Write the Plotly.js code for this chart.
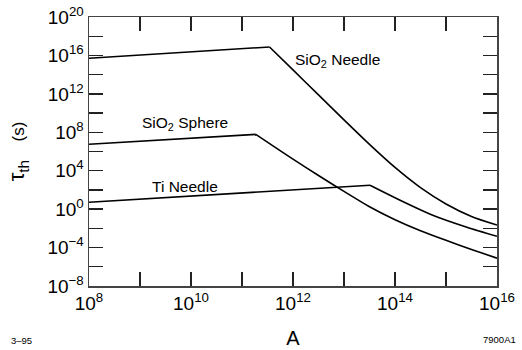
<!DOCTYPE html>
<html>
<head>
<meta charset="utf-8">
<script src="https://cdn.plot.ly/plotly-3.0.1.min.js"></script>
<style>
html,body{margin:0;padding:0;background:#fff;}
#chart{width:522px;height:350px;}
</style>
</head>
<body>
<div id="chart"></div>
<script>
// Values as log10 exponents (A on x, tau_th on y)
const needleLogA   = [8.0, 11.54, 12.0, 12.5, 13.0, 13.5, 14.0, 14.5, 15.0, 15.5, 16.0];
const needleLogTau = [15.70, 16.88, 14.49, 11.89, 9.29, 6.74, 4.34, 2.24, 0.54, -0.76, -1.66];

const sphereLogA   = [8.0, 11.27, 12.0, 12.5, 13.0, 13.5, 14.0, 14.5, 15.0, 15.5, 16.0];
const sphereLogTau = [6.75, 7.78, 5.2, 3.5, 1.85, 0.25, -1.1, -2.25, -3.25, -4.2, -5.1];

const tiLogA   = [8.0, 13.51, 14.10, 14.74, 15.41, 16.0];
const tiLogTau = [0.72, 2.49, 0.93, -0.63, -1.88, -2.82];

const xLabelExp = [8, 10, 12, 14, 16];
const xMinorExp = [9, 11, 13, 15];
const yLabelExp = [-8, -4, 0, 4, 8, 12, 16, 20];
const yMinorExp = [-6, -2, 2, 6, 10, 14, 18];

const seriesLabels = ["SiO<sub>2</sub> Needle", "SiO<sub>2</sub> Sphere", "Ti Needle"];

const p10 = v => Math.pow(10, v);
const lineStyle = {color: '#000', width: 1.6};

function seriesTraces(lx, ly) {
  // rising straight segment then falling curved segment (peak at index 1)
  return [
    {x: lx.slice(0, 2).map(p10), y: ly.slice(0, 2).map(p10), mode: 'lines', line: lineStyle, hoverinfo: 'skip'},
    {x: lx.slice(1).map(p10), y: ly.slice(1).map(p10), mode: 'lines',
     line: Object.assign({shape: 'spline', smoothing: 0.7}, lineStyle), hoverinfo: 'skip'}
  ];
}

const traces = [].concat(
  seriesTraces(needleLogA, needleLogTau),
  seriesTraces(sphereLogA, sphereLogTau),
  seriesTraces(tiLogA, tiLogTau)
);

const tickLabel = e => '10<sup>' + String(e).replace('-', '\u2212') + '</sup>';

const FONT = 'Liberation Sans, Arial, Helvetica, sans-serif';
const axisCommon = {
  type: 'log',
  showgrid: false,
  zeroline: false,
  showline: true,
  linecolor: '#444',
  linewidth: 1.5,
  mirror: 'ticks',
  ticks: 'inside',
  ticklen: 14,
  tickwidth: 1.3,
  tickcolor: '#222',
  tickmode: 'array',
  tickfont: {family: FONT, size: 19, color: '#000'}
};
const minorCommon = {ticks: 'inside', ticklen: 14, tickwidth: 1.3, tickcolor: '#222', showgrid: false, tickmode: 'array'};

// plot area in pixels: x 89..497, y 17..286
const px = x => (x - 89) / 408;
const py = y => (286 - y) / 269;

const layout = {
  width: 522, height: 350,
  margin: {l: 89, r: 25, t: 17, b: 64},
  paper_bgcolor: '#fff', plot_bgcolor: '#fff',
  showlegend: false,
  font: {family: FONT, color: '#000'},
  xaxis: Object.assign({}, axisCommon, {
    range: [8, 16],
    tickvals: xLabelExp.map(p10),
    ticktext: xLabelExp.map(tickLabel),
    minor: Object.assign({}, minorCommon, {tickvals: xMinorExp.map(p10)}),
    title: {text: 'A', font: {family: FONT, size: 20, color: '#000'}, standoff: 17}
  }),
  yaxis: Object.assign({}, axisCommon, {
    range: [-8, 20],
    tickvals: yLabelExp.map(p10),
    ticktext: yLabelExp.map(tickLabel),
    minor: Object.assign({}, minorCommon, {tickvals: yMinorExp.map(p10)}),
    title: {text: '\u03c4<sub>th</sub>   <span style="font-size:17px">(s)</span>', font: {family: FONT, size: 22, color: '#000'}, standoff: 16}
  }),
  annotations: [
    {text: seriesLabels[0], x: 337, y: 61},
    {text: seriesLabels[1], x: 185, y: 124},
    {text: seriesLabels[2], x: 185, y: 186}
  ].map(a => ({
    text: a.text, x: px(a.x), y: py(a.y), xref: 'paper', yref: 'paper', showarrow: false,
    xanchor: 'center', yanchor: 'middle',
    font: {family: FONT, size: 15.5, color: '#000'}
  })).concat([
    {text: '3\u201395', x: px(21), y: py(340), xref: 'paper', yref: 'paper', showarrow: false,
     xanchor: 'center', yanchor: 'middle', font: {family: FONT, size: 9.5, color: '#000'}},
    {text: '7900A1', x: px(499), y: py(339), xref: 'paper', yref: 'paper', showarrow: false,
     xanchor: 'center', yanchor: 'middle', font: {family: FONT, size: 9.5, color: '#000'}}
  ])
};

Plotly.newPlot('chart', traces, layout, {staticPlot: true, displayModeBar: false});
</script>
</body>
</html>
